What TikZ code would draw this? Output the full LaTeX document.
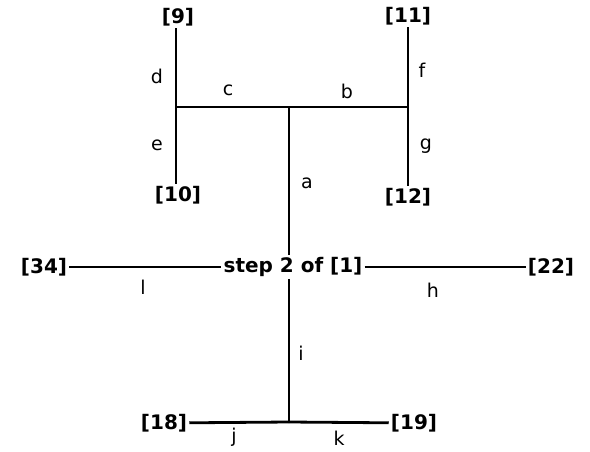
\documentclass[tikz,border=0pt]{standalone}
\usepackage{fontspec}
\setmainfont{DejaVu Sans}
\begin{document}
\begin{tikzpicture}[x=1pt,y=-1pt,
  leaf/.style={font=\bfseries\fontsize{20}{22}\selectfont, inner sep=2pt},
  lab/.style={font=\fontsize{19}{21}\selectfont, inner sep=0pt},
  edge/.style={line width=2.8pt}]
\useasboundingbox (0,0) rectangle (590,451);
% leaves and internal points
\node[leaf] (n9) at (178,17) {[9]};
\node[leaf] (n10) at (178,195) {[10]};
\node[leaf] (n11) at (408,16) {[11]};
\node[leaf] (n12) at (408,197) {[12]};
\coordinate (L) at (176,107);
\coordinate (R) at (408,107);
\coordinate (T) at (289,107);
\node[leaf] (s) at (293,267) {step 2 of [1]};
\node[leaf] (n34) at (44,267) {[34]};
\node[leaf] (n22) at (551,267) {[22]};
\coordinate (B) at (289,422);
\node[leaf] (n18) at (164,423) {[18]};
\node[leaf] (n19) at (414,423) {[19]};
% edges
\draw[edge] (n9.south -| L) -- (L);
\draw[edge] (L) -- (n10.north -| L);
\draw[edge] (n11.south -| R) -- (R);
\draw[edge] (R) -- (n12.north -| R);
\draw[edge] (L) -- (T);
\draw[edge] (T) -- (R);
\draw[edge] (T) -- (s.north -| T);
\draw[edge] (n34) -- (s);
\draw[edge] (s) -- (n22);
\draw[edge] (s.south -| B) -- (B);
\draw[edge] (n18) -- (B);
\draw[edge] (B) -- (n19);
% edge labels
\node[lab] (ld) at (157,76) {d};
\node[lab] (le) at (157,145) {e};
\node[lab] (lc) at (228,90) {c};
\node[lab] (lb) at (347,91) {b};
\node[lab] (lf) at (422,70) {f};
\node[lab] (lg) at (426,146) {g};
\node[lab] (la) at (307,183) {a};
\node[lab] (ll) at (143,287) {l};
\node[lab] (lh) at (433,290) {h};
\node[lab] (li) at (301,353) {i};
\node[lab] (lj) at (234,437) {j};
\node[lab] (lk) at (339,438) {k};
\end{tikzpicture}
\end{document}
